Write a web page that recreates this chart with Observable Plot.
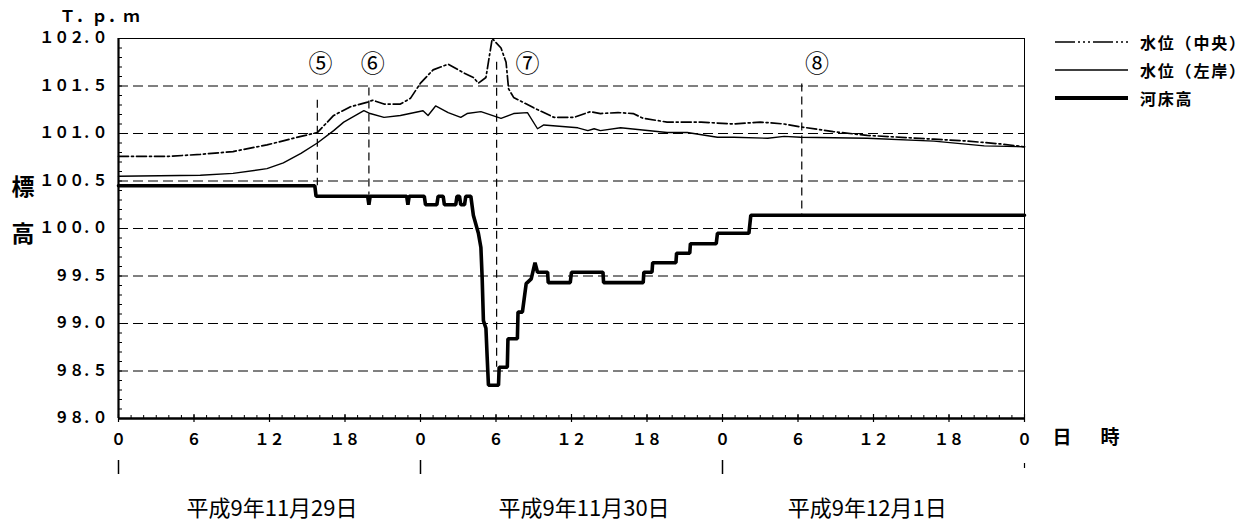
<!DOCTYPE html>
<html><head><meta charset="utf-8">
<script src="https://cdn.jsdelivr.net/npm/d3@7"></script>
<script src="https://cdn.jsdelivr.net/npm/@observablehq/plot@0.6"></script>
<style>
body{margin:0;background:#fff;}
#chart{position:relative;width:1250px;height:532px;overflow:hidden;}
#legend{position:absolute;left:1052px;top:28px;width:198px;white-space:nowrap;font-family:"Noto Sans CJK JP",sans-serif;font-weight:bold;font-size:16px;letter-spacing:1.8px;color:#000;}
#legend .row{height:28px;display:flex;align-items:center;}
#legend svg{width:88px;height:28px;flex:none;}
</style></head><body><div id="chart"></div>
<script>
// ---- data (hours from 1997-11-29 0:00) ----
const centerHours  = [0,4,6.5,9.1,11.8,14.5,15.8,17.1,18.4,19.8,20.2,21.1,22.4,23.2,24.0,25.0,26.2,27.4,28.2,28.6,29.2,29.7,30.4,30.8,31.0,31.4,33.0,34.6,36.2,37.5,38.3,39.7,40.9,41.7,43.6,46.3,48.9,51.0,52.9,54.2,56.8,59.5,62.2,64.8,67.5,70.1,72];
const centerLevels = [100.76,100.76,100.78,100.81,100.88,100.97,101.01,101.19,101.28,101.33,101.35,101.31,101.31,101.37,101.53,101.67,101.73,101.64,101.59,101.53,101.59,102.0,101.9,101.75,101.47,101.38,101.27,101.17,101.17,101.23,101.21,101.22,101.21,101.16,101.12,101.12,101.10,101.12,101.10,101.07,101.02,100.98,100.96,100.94,100.92,100.89,100.86];

const leftHours  = [0,6.5,9.1,11.8,13.1,14.5,15.8,17.1,17.9,19.5,20.0,21.1,22.4,24.2,24.6,25.2,26.2,27.2,27.7,28.8,30.4,31.4,32.5,33.3,33.8,36.5,37.3,37.8,38.3,39.9,43.6,45.2,47.6,48.9,51.6,52.9,54.2,59.5,64.8,68.8,72];
const leftLevels = [100.55,100.56,100.58,100.63,100.69,100.79,100.90,101.03,101.12,101.24,101.21,101.17,101.19,101.24,101.19,101.29,101.22,101.17,101.21,101.23,101.16,101.21,101.22,101.05,101.09,101.06,101.03,101.05,101.03,101.06,101.01,101.01,100.96,100.96,100.95,100.97,100.96,100.95,100.92,100.87,100.86];

const bedHours  = [0,15.6,15.7,19.8,19.9,20.0,22.9,23.0,23.1,24.3,24.4,25.3,25.4,25.8,25.9,26.8,26.9,27.1,27.2,27.5,27.6,28.0,28.2,28.6,28.8,28.9,29.0,29.2,29.3,29.4,30.2,30.25,30.9,30.95,31.7,31.75,32.1,32.4,32.8,33.1,33.3,34.1,34.15,35.9,36.0,38.5,38.55,41.7,41.75,42.4,42.45,44.3,44.35,45.4,45.45,47.5,47.6,50.1,50.25,72];
const bedLevels = [100.45,100.45,100.34,100.34,100.25,100.34,100.34,100.25,100.34,100.34,100.25,100.25,100.34,100.34,100.25,100.25,100.34,100.34,100.25,100.25,100.34,100.34,100.14,99.95,99.80,99.48,99.03,98.95,98.64,98.35,98.35,98.54,98.54,98.84,98.84,99.12,99.12,99.42,99.47,99.64,99.54,99.54,99.43,99.43,99.54,99.54,99.43,99.43,99.54,99.54,99.64,99.64,99.74,99.74,99.84,99.84,99.95,99.95,100.14,100.14];

const seriesNames = ["水位（中央）","水位（左岸）","河床高"];

const yTickValues = [102.0,101.5,101.0,100.5,100.0,99.5,99.0,98.5,98.0];
const yTickLabels = ["102.0","101.5","101.0","100.5","100.0","99.5","99.0","98.5","98.0"];
const gridValues  = [101.5,101.0,100.5,100.0,99.5,99.0,98.5];
const yMinorTicks = d3.range(981,1020).map(v=>v/10);

const xTickHours  = [0,6,12,18,24,30,36,42,48,54,60,66,72];
const xTickLabels = ["0","6","12","18","0","6","12","18","0","6","12","18","0"];
const xMinorTicks = d3.range(1,72);
const dayBoundaryHours = [0,24,48];
const endMarkHours = [72];
const dayLabels = ["平成9年11月29日","平成9年11月30日","平成9年12月1日"];
const dayLabelHours = [12.2,37.0,59.5];

const refLabels = ["⑤","⑥","⑦","⑧"];
const refHours  = [15.8,19.9,30.05,54.3];
const refTop    = [101.35,101.48,101.75,101.52];
const refBottom = [100.45,100.34,98.54,100.14];
const refLabelHours = [16.05,20.2,32.5,55.5];
const refLabelLevel = 101.73;

// ---- build ----
const fwDigit = c => String.fromCharCode(c.charCodeAt(0) + 0xFEE0);
const fw = s => s.replace(/[0-9]/g, fwDigit);
const fwNum = s => { const [a,b] = s.split("."); return fw(a) + ". " + fw(b); };
const center = centerHours.map((h,i)=>({h, v:centerLevels[i]}));
const left   = leftHours.map((h,i)=>({h, v:leftLevels[i]}));
const bed    = bedHours.map((h,i)=>({h, v:bedLevels[i]}));
const refs   = refHours.map((h,i)=>({h, y1:refTop[i], y2:refBottom[i], lh:refLabelHours[i], label:refLabels[i]}));
const CJK = '"Noto Sans CJK JP", sans-serif';
const FW = 906, FH = 380;

const chart = Plot.plot({
  width:1250, height:532,
  marginLeft:118, marginRight:226, marginTop:38, marginBottom:114,
  x:{domain:[0,72], axis:null},
  y:{domain:[98,102], axis:null},
  style:{background:"white", color:"black", overflow:"visible"},
  marks:[
    Plot.ruleY(gridValues, {stroke:"#000", strokeWidth:1, strokeDasharray:"10,5"}),
    Plot.ruleX(refs, {x:"h", y1:"y1", y2:"y2", stroke:"#000", strokeWidth:1.2, strokeDasharray:"8,5"}),
    Plot.text(refs, {x:"lh", y:()=>refLabelLevel, text:"label", fontFamily:CJK, fontSize:24, fill:"#000"}),
    Plot.line(left,   {x:"h", y:"v", stroke:"#000", strokeWidth:1.4}),
    Plot.line(center, {x:"h", y:"v", stroke:"#000", strokeWidth:1.7, strokeDasharray:"10,3,2,3"}),
    Plot.line(bed,    {x:"h", y:"v", stroke:"#000", strokeWidth:3.6, strokeLinejoin:"miter"}),
    // frame
    Plot.ruleY([102], {stroke:"#000", strokeWidth:1}),
    Plot.ruleX([72],  {stroke:"#000", strokeWidth:1}),
    Plot.ruleX([0],   {stroke:"#000", strokeWidth:2.2}),
    Plot.ruleY([98],  {stroke:"#000", strokeWidth:2.6}),
    // minor ticks
    Plot.ruleY(yMinorTicks, {stroke:"#000", strokeWidth:1, insetRight:FW-4}),
    Plot.ruleX(xMinorTicks, {stroke:"#000", strokeWidth:1, insetTop:FH-3}),
    Plot.ruleX(xTickHours,  {stroke:"#000", strokeWidth:1.2, insetTop:FH-4, insetBottom:-4}),
    // tick labels
    Plot.text(yTickValues, {y:d=>d, frameAnchor:"left", dx:-11, text:(d,i)=>fwNum(yTickLabels[i]), textAnchor:"end", fontFamily:CJK, fontWeight:"bold", fontSize:15, fill:"#000"}),
    Plot.text(xTickHours, {x:d=>d, frameAnchor:"bottom", dy:26, text:(d,i)=>fw(xTickLabels[i]), fontFamily:CJK, fontWeight:"bold", fontSize:15, fill:"#000"}),
    Plot.ruleX(dayBoundaryHours, {stroke:"#000", strokeWidth:1.5, insetTop:FH+42, insetBottom:-56}),
    Plot.ruleX(endMarkHours, {stroke:"#000", strokeWidth:1.2, insetTop:FH+45, insetBottom:-50}),
    Plot.text(dayLabels, {x:(d,i)=>dayLabelHours[i], frameAnchor:"bottom", dy:97, text:d=>d, fontFamily:CJK, fontSize:22, fill:"#000"}),
    // axis titles
    Plot.text(["Ｔ．ｐ．ｍ"], {frameAnchor:"top-left", dx:-59, dy:-28, textAnchor:"start", fontFamily:CJK, fontWeight:"bold", fontSize:16, fill:"#000"}),
    Plot.text(["標\n高"], {frameAnchor:"left", dx:-107, dy:-25, lineHeight:2.05, fontFamily:CJK, fontWeight:"bold", fontSize:23, fill:"#000"}),
    Plot.text(["日"], {frameAnchor:"bottom-right", dx:47, dy:25, fontFamily:CJK, fontWeight:"bold", fontSize:19, fill:"#000"}),
    Plot.text(["時"], {frameAnchor:"bottom-right", dx:95, dy:25, fontFamily:CJK, fontWeight:"bold", fontSize:19, fill:"#000"})
  ]
});
const host = document.getElementById("chart");
host.appendChild(chart);

// legend
const legendStyles = [
  {w:1.7, dash:"20,3,2,3,2,3,2,3"},
  {w:1.3, dash:null},
  {w:3.8, dash:null}
];
const lg = document.createElement("div");
lg.id = "legend";
seriesNames.forEach((name,i)=>{
  const row = document.createElement("div");
  row.className = "row";
  const st = legendStyles[i];
  row.innerHTML = `<svg viewBox="0 0 88 28"><line x1="3" x2="76" y1="14" y2="14" stroke="#000" stroke-width="${st.w}" ${st.dash?`stroke-dasharray="${st.dash}"`:""}/></svg><span>${name}</span>`;
  lg.appendChild(row);
});
host.appendChild(lg);
</script>
</body></html>
